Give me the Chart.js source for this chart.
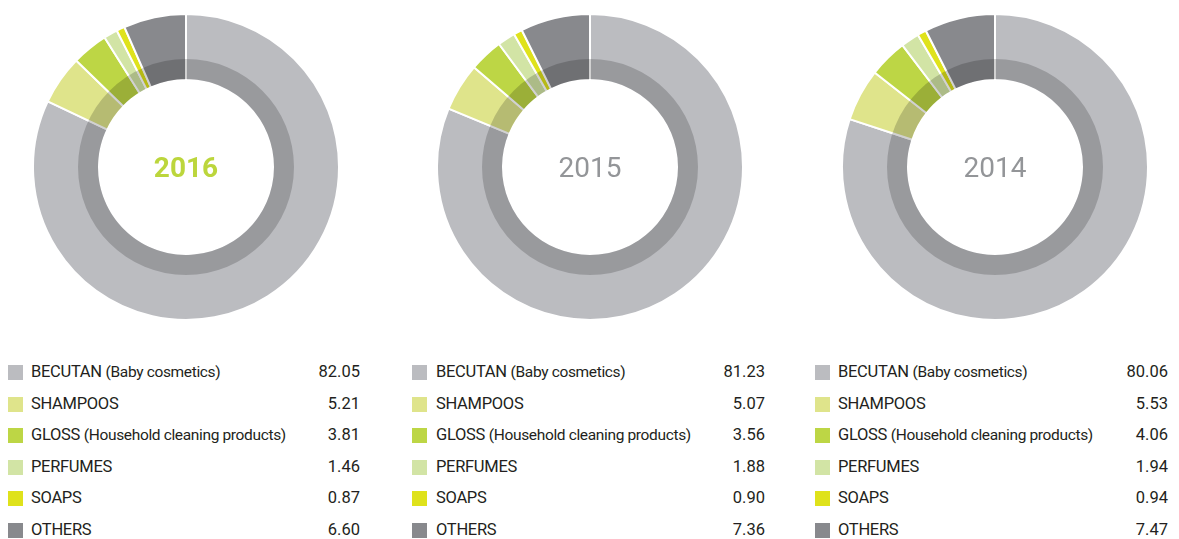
<!DOCTYPE html>
<html>
<head>
<meta charset="utf-8">
<script src="https://cdn.jsdelivr.net/npm/chart.js@4/dist/chart.umd.min.js"></script>
<style>
  body { margin: 0; background: #fff; font-family: Roboto, "DejaVu Sans", sans-serif; color: #231f20; }
  #wrap { position: relative; width: 1179px; height: 539px; overflow: hidden; }
  .donut { position: absolute; width: 308px; height: 308px; }
  .year { position: absolute; width: 120px; text-align: center; font-size: 28px; line-height: 30px; }
  .row { position: absolute; height: 20px; line-height: 20px; font-size: 16.5px; white-space: nowrap; }
  .sq { position: absolute; width: 15px; height: 15px; }
  .lbl { position: absolute; letter-spacing: -0.3px; }
  .lbl small { font-size: 15.5px; letter-spacing: -0.35px; }
  .val { position: absolute; text-align: right; width: 80px; }
</style>
</head>
<body>
<div id="wrap"></div>
<script>
// ---- data ----
const categories = ['BECUTAN', 'SHAMPOOS', 'GLOSS', 'PERFUMES', 'SOAPS', 'OTHERS'];
const notes      = ['(Baby cosmetics)', '', '(Household cleaning products)', '', '', ''];
const years      = ['2016', '2015', '2014'];
const values2016 = [82.05, 5.21, 3.81, 1.46, 0.87, 6.60];
const values2015 = [81.23, 5.07, 3.56, 1.88, 0.90, 7.36];
const values2014 = [80.06, 5.53, 4.06, 1.94, 0.94, 7.47];
const colors     = ['#bbbcc0', '#dfe48b', '#bdd645', '#d2e4a5', '#dfe21b', '#88898d'];

const seriesByYear = [values2016, values2015, values2014];
const centersX = [186, 590, 995];
const centerY = 167;
const legendCols = [
  { sq: 8,   txt: 31,  right: 360 },
  { sq: 412, txt: 436, right: 765 },
  { sq: 815, txt: 838, right: 1168 }
];

const wrap = document.getElementById('wrap');

// dunkler Innenring (Overlay über den Segmenten)
const bandPlugin = {
  id: 'band',
  afterDatasetsDraw(chart) {
    const arc = chart.getDatasetMeta(0).data[0];
    if (!arc) return;
    const ctx = chart.ctx;
    const r0 = arc.innerRadius + 1, r1 = arc.innerRadius + 21;
    ctx.save();
    ctx.beginPath();
    ctx.arc(arc.x, arc.y, r1, 0, Math.PI * 2);
    ctx.arc(arc.x, arc.y, r0, 0, Math.PI * 2, true);
    ctx.fillStyle = 'rgba(0,0,0,0.18)';
    ctx.fill();
    ctx.restore();
  }
};

years.forEach((year, i) => {
  const cx = centersX[i];

  // 1. Donut
  const box = document.createElement('div');
  box.className = 'donut';
  box.style.left = (cx - 154) + 'px';
  box.style.top = (centerY - 154) + 'px';
  const canvas = document.createElement('canvas');
  canvas.width = 308; canvas.height = 308;
  box.appendChild(canvas);
  wrap.appendChild(box);

  new Chart(canvas.getContext('2d'), {
    type: 'doughnut',
    data: {
      labels: categories,
      datasets: [{ data: seriesByYear[i], backgroundColor: colors, borderColor: '#ffffff', borderWidth: 2 }]
    },
    options: {
      responsive: false,
      animation: false,
      cutout: 87,
      layout: { padding: 0 },
      plugins: { legend: { display: false }, tooltip: { enabled: false } }
    },
    plugins: [bandPlugin]
  });

  // 2. Jahr in der Mitte
  const yr = document.createElement('div');
  yr.className = 'year';
  yr.textContent = year;
  yr.style.left = (cx - 60) + 'px';
  yr.style.top = (centerY - 14) + 'px';
  if (i === 0) { yr.style.color = '#bcd63c'; yr.style.fontWeight = 'bold'; }
  else { yr.style.color = '#939598'; }
  wrap.appendChild(yr);

  // 3. Legende mit Werten
  const col = legendCols[i];
  categories.forEach((cat, k) => {
    const y = 372 + k * 31.6;
    const sq = document.createElement('div');
    sq.className = 'sq';
    sq.style.background = colors[k];
    sq.style.left = col.sq + 'px';
    sq.style.top = (y - 7) + 'px';
    wrap.appendChild(sq);

    const lbl = document.createElement('div');
    lbl.className = 'row lbl';
    lbl.style.left = col.txt + 'px';
    lbl.style.top = (y - 10) + 'px';
    lbl.innerHTML = cat + (notes[k] ? ' <small>' + notes[k] + '</small>' : '');
    wrap.appendChild(lbl);

    const val = document.createElement('div');
    val.className = 'row val';
    val.style.left = (col.right - 80) + 'px';
    val.style.top = (y - 10) + 'px';
    val.textContent = seriesByYear[i][k].toFixed(2);
    wrap.appendChild(val);
  });
});
</script>
</body>
</html>
